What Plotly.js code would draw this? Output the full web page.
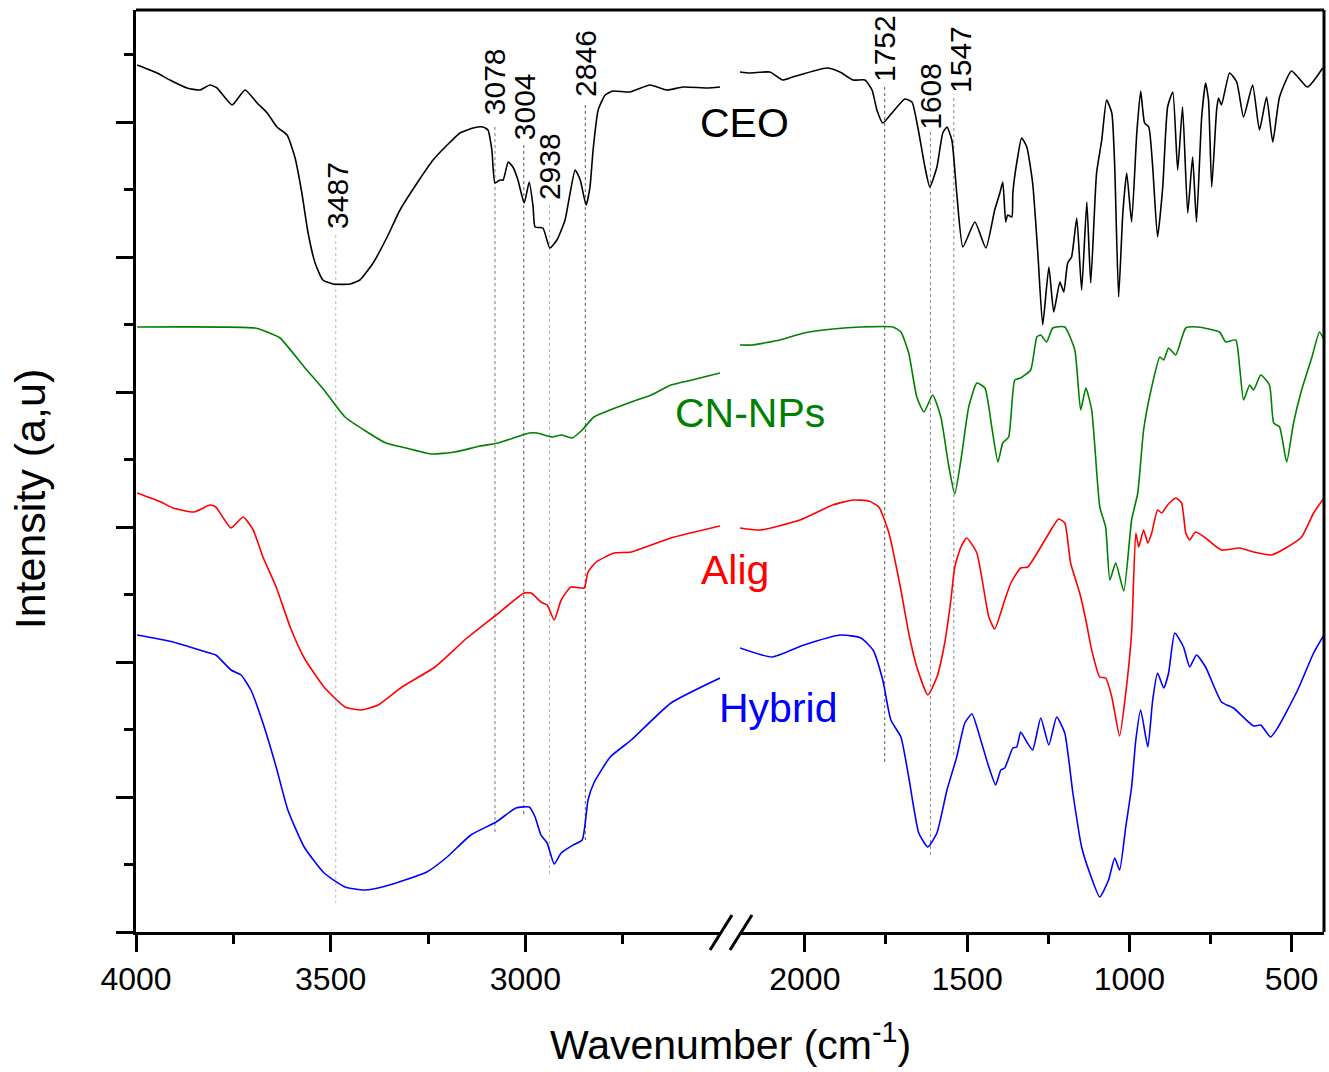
<!DOCTYPE html>
<html>
<head>
<meta charset="utf-8">
<script src="https://cdn.plot.ly/plotly-3.0.1.min.js"></script>
<style>html,body{margin:0;padding:0;background:#fff;}#chart{width:1329px;height:1072px;}</style>
</head>
<body>
<div id="chart"></div>
<script>
// ---- Data (wavenumber in cm-1, intensity in arbitrary units) ----
var ceoLeftX = [3997,3946,3913,3869,3836,3810,3792,3753,3720,3689,3663,3638,3612,3592,3574,3558,3540,3520,3494,3450,3425,3391,3355,3322,3278,3237,3193,3168,3134,3109,3096,3086,3078,3065,3057,3044,3032,3019,3003,2990,2980,2975,2955,2937,2919,2898,2885,2872,2859,2844,2834,2826,2813,2795,2775,2731,2680,2636,2595,2533,2500];
var ceoLeftY = [867,859,852,844,842,847,844,827,842,829,819,805,797,775,739,699,669,652,648,648,652,669,695,722,749,772,790,799,804,805,802,782,749,752,752,770,765,752,729,750,725,705,704,684,692,712,739,762,752,727,745,782,822,837,841,840,847,842,845,844,845];
var ceoRightX = [2200,2169,2108,2068,2037,1932,1892,1852,1815,1793,1778,1760,1729,1692,1670,1652,1630,1615,1593,1575,1562,1547,1532,1513,1476,1442,1415,1399,1390,1381,1375,1362,1359,1344,1332,1316,1298,1282,1267,1248,1233,1214,1202,1190,1178,1162,1147,1131,1119,1101,1085,1070,1054,1045,1033,1020,1008,993,977,965,953,940,928,913,897,882,866,851,836,820,805,793,777,765,756,746,731,725,716,691,669,648,620,599,577,558,537,500,451,404];
var ceoRightY = [860,859,860,852,855,864,860,852,852,842,822,809,820,833,830,805,765,745,765,799,805,792,739,685,710,684,722,739,750,710,717,715,739,775,794,785,749,679,607,665,620,650,640,669,675,714,642,730,649,759,792,832,819,765,635,719,759,710,799,841,809,805,765,695,745,825,840,762,825,719,775,710,815,849,832,745,822,834,827,859,850,815,847,802,835,790,835,861,845,864];

var cnLeftX = [3997,3694,3663,3630,3568,3517,3463,3358,3317,3242,3181,3116,3070,2990,2970,2931,2908,2880,2854,2824,2782,2728,2677,2626,2572,2500];
var cnLeftY = [605,604,600,594,565,542,515,489,485,478,480,486,489,499,499,495,497,494,502,515,522,530,537,547,552,559];
var cnRightX = [2200,2163,2077,2003,1914,1827,1729,1704,1680,1655,1633,1606,1581,1556,1538,1519,1495,1470,1445,1424,1405,1390,1372,1353,1335,1304,1285,1273,1255,1236,1199,1168,1150,1134,1116,1091,1073,1060,1042,1017,993,974,956,931,906,894,879,857,826,789,722,703,672,660,648,629,617,595,568,555,537,515,494,469,438,414,400];
var cnRightY = [587,587,592,599,603,605,605,600,579,535,520,537,515,465,438,472,525,549,544,505,470,489,495,552,554,562,595,597,590,604,605,582,522,544,522,425,405,352,369,341,412,439,502,545,575,572,584,577,604,605,600,590,592,565,532,547,542,557,547,509,505,470,509,542,574,600,592];

var aligLeftX = [3997,3936,3905,3851,3810,3795,3756,3725,3699,3674,3640,3604,3568,3517,3463,3422,3378,3317,3232,3150,3075,3003,2985,2960,2944,2926,2908,2883,2849,2839,2818,2772,2728,2626,2500];
var aligLeftY = [439,430,424,420,427,425,404,415,402,375,345,305,274,245,225,222,227,245,265,294,317,339,339,330,327,312,332,345,344,360,370,379,380,394,406];
var aligRightX = [2200,2138,2015,1914,1852,1803,1772,1741,1704,1680,1655,1621,1593,1569,1550,1538,1519,1501,1470,1433,1415,1384,1365,1335,1313,1273,1236,1218,1199,1181,1153,1134,1116,1091,1073,1054,1030,1011,993,980,971,956,943,931,913,900,882,857,839,826,814,796,765,716,660,617,562,518,469,432,400];
var aligRightY = [404,402,412,427,432,431,425,399,342,299,265,237,255,289,332,365,385,394,379,315,303,332,349,364,365,385,405,413,409,369,339,312,282,255,254,235,196,239,299,399,385,402,389,399,422,419,427,434,429,399,392,400,394,382,384,380,377,384,395,419,434];

var hybLeftX = [3997,3905,3820,3795,3756,3730,3705,3674,3640,3610,3568,3517,3463,3412,3358,3253,3201,3140,3075,3024,2990,2975,2960,2944,2926,2908,2877,2854,2839,2824,2782,2728,2626,2500];
var hybLeftY = [297,290,280,277,262,257,242,209,165,122,85,59,45,42,46,60,75,97,110,124,125,115,97,89,68,79,87,92,132,149,175,192,229,254];
var hybRightX = [2200,2101,2003,1889,1827,1790,1760,1735,1704,1680,1649,1621,1593,1562,1532,1507,1485,1458,1433,1412,1396,1384,1359,1347,1335,1316,1298,1273,1248,1224,1199,1174,1147,1122,1091,1064,1045,1030,1011,993,980,965,943,928,913,894,879,860,833,814,793,765,716,679,617,595,565,543,481,432,400];
var hybRightY = [284,275,287,297,294,282,252,212,195,155,99,85,99,142,175,209,218,192,165,147,162,164,184,185,200,190,182,214,187,215,199,139,85,59,35,52,74,62,105,145,192,222,185,232,259,244,259,299,285,265,277,265,230,224,206,207,195,204,242,279,297];

var seriesNames = ["CEO","CN-NPs","Alig","Hybrid"];
var seriesColors = ["#000000","#008000","#ff0000","#0000ff"];

var peakLabelsLeft = [3487,3078,3004,2938,2846];
var peakLabelsRight = [1752,1608,1547];

var xTicksLeft = [4000,3500,3000];
var xMinorLeft = [3750,3250,2750];
var xTicksRight = [2000,1500,1000,500];
var xMinorRight = [1750,1250,750];
var yTicks = [0,135,270,405,540,675,810];
var yMinor = [67.5,202.5,337.5,472.5,607.5,742.5,877.5];

// ---- Build traces ----
var leftX = [ceoLeftX, cnLeftX, aligLeftX, hybLeftX];
var leftY = [ceoLeftY, cnLeftY, aligLeftY, hybLeftY];
var rightX = [ceoRightX, cnRightX, aligRightX, hybRightX];
var rightY = [ceoRightY, cnRightY, aligRightY, hybRightY];
var traces = [];
for (var i = 0; i < 4; i++) {
  traces.push({x:leftX[i], y:leftY[i], xaxis:'x', yaxis:'y', mode:'lines', name:seriesNames[i],
    line:{color:seriesColors[i], width:1.6, shape:'spline', smoothing:0.5}, showlegend:false, hoverinfo:'skip'});
  traces.push({x:rightX[i], y:rightY[i], xaxis:'x2', yaxis:'y', mode:'lines', name:seriesNames[i],
    line:{color:seriesColors[i], width:1.6, shape:'spline', smoothing:0.5}, showlegend:false, hoverinfo:'skip'});
}

var FONT = '"Liberation Sans", Arial, sans-serif';
var axisCommon = {
  showline:true, linewidth:3, linecolor:'#000', ticks:'outside', ticklen:17, tickwidth:3, tickcolor:'#000',
  showgrid:false, zeroline:false, tickfont:{family:FONT, size:32, color:'#000'}
};

// peak marker lines: [wavenumber, axis, yTop, yBottom, color]
var peakLines = [
  [3487,'x',697,29,'#bbbbbb'],
  [3078,'x',805,100,'#777777'],
  [3004,'x',787,117,'#555555'],
  [2938,'x',727,57,'#bbbbbb'],
  [2846,'x',827,92,'#555555'],
  [1754,'x2',845,167,'#555555'],
  [1613,'x2',800,77,'#888888'],
  [1541,'x2',834,174,'#888888']
];
// label placement [value, axis, x position (axis units), y centre]
var peakTextPos = [
  [3487,'x',3484,737],[3078,'x',3080,850],[3004,'x',3003,825],[2938,'x',2939,765],[2846,'x',2847,869],
  [1752,'x2',1756,883],[1608,'x2',1615,836],[1547,'x2',1522,873]
];

var shapes = [];
peakLines.forEach(function(p){
  shapes.push({type:'line', xref:p[1], yref:'y', x0:p[0], x1:p[0], y0:p[2], y1:p[3],
    line:{color:p[4], width:1, dash:'dot'}, layer:'below'});
});
// frame: top and right border
shapes.push({type:'line', xref:'paper', yref:'paper', x0:0, x1:1, y0:1, y1:1, line:{color:'#000', width:3}});
shapes.push({type:'line', xref:'paper', yref:'paper', x0:1, x1:1, y0:0, y1:1, line:{color:'#000', width:3}});
// axis break marks
shapes.push({type:'line', xref:'paper', yref:'paper', x0:0.4832, y0:-0.0195, x1:0.5017, y1:0.0184, line:{color:'#000', width:3}});
shapes.push({type:'line', xref:'paper', yref:'paper', x0:0.5000, y0:-0.0195, x1:0.5185, y1:0.0184, line:{color:'#000', width:3}});

var annotations = [];
peakTextPos.forEach(function(p){
  annotations.push({xref:p[1], yref:'y', x:p[2], y:p[3], text:String(p[0]), textangle:-90, showarrow:false,
    xanchor:'center', yanchor:'middle', font:{family:FONT, size:30, color:'#000'}});
});
var seriesLabelPos = [[0.5118,809],[0.5168,519],[0.5042,362],[0.5404,224]];
for (var k = 0; k < 4; k++) {
  annotations.push({xref:'paper', yref:'y', x:seriesLabelPos[k][0], y:seriesLabelPos[k][1], text:seriesNames[k],
    showarrow:false, xanchor:'center', yanchor:'middle', font:{family:FONT, size:41, color:seriesColors[k]}});
}
annotations.push({xref:'paper', yref:'paper', x:0.5, y:-0.119, xanchor:'center', yanchor:'middle', showarrow:false,
  text:'Wavenumber (cm<sup>-1</sup>)', font:{family:FONT, size:41, color:'#000'}});
annotations.push({xref:'paper', yref:'paper', x:-0.089, y:0.4696, xanchor:'center', yanchor:'middle', showarrow:false,
  textangle:-90, text:'Intensity (a,u)', font:{family:FONT, size:43, color:'#000'}});

var layout = {
  width:1329, height:1072,
  margin:{l:136, r:5, t:10, b:140},
  paper_bgcolor:'#fff', plot_bgcolor:'#fff',
  showlegend:false,
  xaxis: Object.assign({}, axisCommon, {domain:[0,0.4916], range:[4000,2500], tickmode:'array', tickvals:xTicksLeft,
    anchor:'y', minor:{tickvals:xMinorLeft, ticks:'outside', ticklen:9, tickwidth:3, tickcolor:'#000', showgrid:false}}),
  xaxis2: Object.assign({}, axisCommon, {domain:[0.5084,1], range:[2200,400], tickmode:'array', tickvals:xTicksRight,
    anchor:'y', minor:{tickvals:xMinorRight, ticks:'outside', ticklen:9, tickwidth:3, tickcolor:'#000', showgrid:false}}),
  yaxis: Object.assign({}, axisCommon, {range:[0,922], tickmode:'array', tickvals:yTicks, showticklabels:false, anchor:'x',
    minor:{tickvals:yMinor, ticks:'outside', ticklen:9, tickwidth:3, tickcolor:'#000', showgrid:false}}),
  shapes:shapes,
  annotations:annotations
};

Plotly.newPlot('chart', traces, layout, {staticPlot:true, displayModeBar:false});
</script>
</body>
</html>
